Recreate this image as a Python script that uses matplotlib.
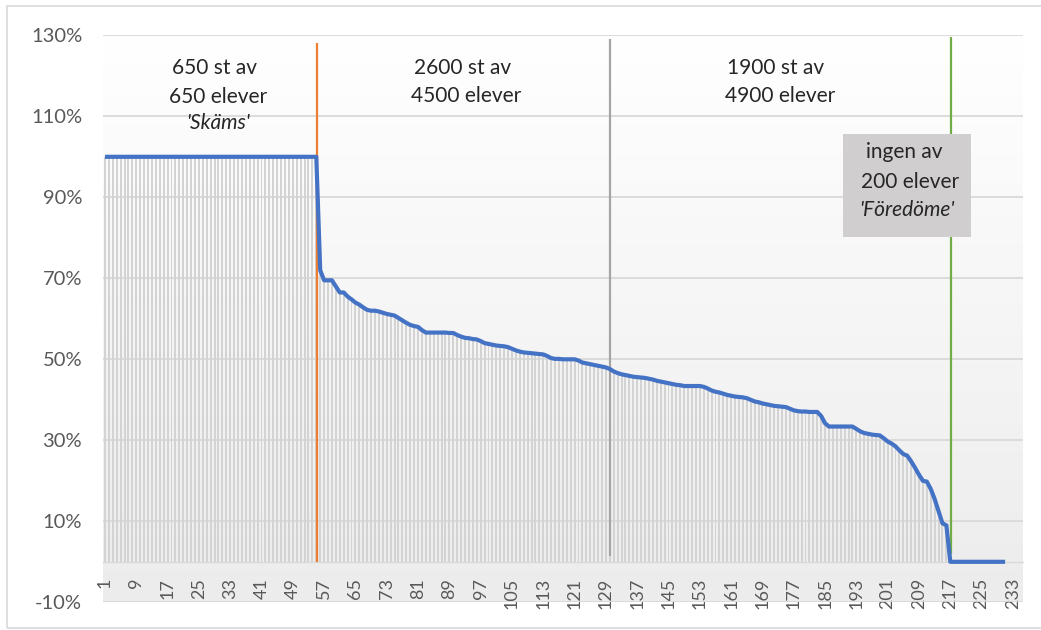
import numpy as np
import matplotlib
matplotlib.use("Agg")
import matplotlib.pyplot as plt
from matplotlib.patches import Rectangle
from matplotlib.colors import LinearSegmentedColormap

# ---------------- data ----------------
values = [
    1.0, 1.0, 1.0, 1.0, 1.0, 1.0, 1.0, 1.0, 1.0, 1.0,
    1.0, 1.0, 1.0, 1.0, 1.0, 1.0, 1.0, 1.0, 1.0, 1.0,
    1.0, 1.0, 1.0, 1.0, 1.0, 1.0, 1.0, 1.0, 1.0, 1.0,
    1.0, 1.0, 1.0, 1.0, 1.0, 1.0, 1.0, 1.0, 1.0, 1.0,
    1.0, 1.0, 1.0, 1.0, 1.0, 1.0, 1.0, 1.0, 1.0, 1.0,
    1.0, 1.0, 1.0, 1.0, 1.0,
    0.72, 0.695, 0.695, 0.695, 0.68, 0.665, 0.665, 0.655, 0.648, 0.64,
    0.635, 0.628, 0.622, 0.62, 0.62, 0.618, 0.615, 0.612, 0.61, 0.608,
    0.602, 0.596, 0.59, 0.585, 0.582, 0.58, 0.572, 0.566, 0.566, 0.566,
    0.566, 0.566, 0.566, 0.565, 0.565, 0.56, 0.556, 0.553, 0.552, 0.55,
    0.549, 0.545, 0.54, 0.538, 0.536, 0.534, 0.533, 0.532, 0.53, 0.526,
    0.522, 0.519, 0.517, 0.516, 0.515, 0.514, 0.513, 0.512, 0.508, 0.503,
    0.501, 0.501, 0.5, 0.5, 0.5, 0.5, 0.497, 0.492, 0.49, 0.488,
    0.486, 0.484, 0.482, 0.48, 0.476, 0.47, 0.466, 0.463, 0.461, 0.459,
    0.457, 0.456, 0.455, 0.454, 0.452, 0.45, 0.447, 0.445, 0.443, 0.441,
    0.439, 0.437, 0.436, 0.434, 0.434, 0.434, 0.434, 0.434, 0.432, 0.428,
    0.423, 0.42, 0.418, 0.415, 0.412, 0.41, 0.408, 0.407, 0.406, 0.404,
    0.4, 0.396, 0.394, 0.391, 0.389, 0.387, 0.385, 0.384, 0.383, 0.382,
    0.378, 0.374, 0.372, 0.371, 0.371, 0.37, 0.37, 0.37, 0.36, 0.342,
    0.334, 0.334, 0.334, 0.334, 0.334, 0.334, 0.334, 0.328, 0.322, 0.318,
    0.316, 0.314, 0.313, 0.312, 0.305, 0.297, 0.292, 0.285, 0.275, 0.266,
    0.262, 0.248, 0.232, 0.215, 0.2, 0.198, 0.18, 0.155, 0.125, 0.095,
    0.09,
    0.0, 0.0, 0.0, 0.0, 0.0, 0.0, 0.0, 0.0, 0.0, 0.0,
    0.0, 0.0, 0.0, 0.0, 0.0,
]
categories = list(range(1, len(values) + 1))
n_categories = 235
x_tick_values = list(range(1, 234, 8))
x_tick_labels = [str(v) for v in x_tick_values]
y_tick_values = [-0.1, 0.1, 0.3, 0.5, 0.7, 0.9, 1.1, 1.3]
y_tick_labels = ["-10%", "10%", "30%", "50%", "70%", "90%", "110%", "130%"]

divider_x = [55.3, 130.0, 217.3]
divider_top = [1.28, 1.29, 1.295]
divider_bottom = [0.0, 0.015, 0.02]
divider_colors = ["#ED7D31", "#A5A5A5", "#70AD47"]

# ---------------- figure ----------------
W, H = 1041, 630
fig = plt.figure(figsize=(W / 100, H / 100), dpi=100)
fig.patch.set_facecolor("white")

def fx(px):
    return px / W

def fy(py):
    return 1 - py / H

ax_left, ax_right, ax_top, ax_bottom = 103, 1022.7, 35.3, 602.3
ax = fig.add_axes([fx(ax_left), fy(ax_bottom), fx(ax_right - ax_left), (ax_bottom - ax_top) / H])

for s in ["top", "right", "left"]:
    ax.spines[s].set_visible(False)
ax.spines["bottom"].set_position(("data", 0))
ax.spines["bottom"].set_color("#d9d9d9")
ax.spines["bottom"].set_linewidth(1.0)
ax.spines["bottom"].set_zorder(1)

# gradient plot-area background
cmap = LinearSegmentedColormap.from_list("bg", ["#ffffff", "#ececec"])
ax.imshow(np.linspace(0, 1, 256).reshape(-1, 1), cmap=cmap, aspect="auto",
          extent=[0.5, n_categories + 0.5, -0.1, 1.3], origin="upper", zorder=0)

# bars + line
ax.bar(categories, values, width=0.5, color="#d3d3d3", zorder=1.5, linewidth=0)
ax.plot(categories, values, color="#4472C4", lw=3.0, zorder=3,
        solid_joinstyle="round", solid_capstyle="butt")

# divider lines
for xv, top, bot, col in zip(divider_x, divider_top, divider_bottom, divider_colors):
    ax.vlines(xv, bot, top, color=col, lw=1.6, zorder=2.5)

ax.set_xlim(0.5, n_categories + 0.5)
ax.set_ylim(-0.1, 1.3)

ax.set_yticks(y_tick_values)
ax.set_yticklabels(y_tick_labels, fontfamily="Lato", fontsize=14.5, color="#595959")
ax.yaxis.grid(True, color="#d9d9d9", lw=1.3, zorder=0.5)
ax.set_axisbelow(True)
ax.tick_params(axis="y", length=0, pad=15)

ax.set_xticks(x_tick_values)
ax.set_xticklabels(x_tick_labels, rotation=90, fontfamily="Lato", fontsize=13, color="#595959")
ax.tick_params(axis="x", length=0, pad=11.5)
for lab in ax.get_xticklabels():
    lab.set_rotation(90)
    lab.set_va("top")
    lab.set_ha("center")

# annotation box (in figure pixels)
box = Rectangle((fx(843), fy(237)), fx(971 - 843), (237 - 134) / H,
                transform=fig.transFigure, facecolor="#d0cece", edgecolor="none", zorder=5)
fig.patches.append(box)

texts = [
    ("650 st av", 214, 68, "normal"),
    ("650 elever", 218, 97, "normal"),
    ("'Skäms'", 218, 123, "italic"),
    ("2600 st av", 463, 68, "normal"),
    ("4500 elever", 466, 96, "normal"),
    ("1900 st av", 776, 68, "normal"),
    ("4900 elever", 780, 96, "normal"),
    ("ingen av", 904, 152, "normal"),
    ("200 elever", 910, 182, "normal"),
    ("'Föredöme'", 907, 210, "italic"),
]
for t, x, y, st in texts:
    fig.text(fx(x), fy(y), t, ha="center", va="center", fontfamily="Lato",
             fontsize=15, fontstyle=st, color="#262626", zorder=6)

# outer chart border
border = Rectangle((fx(7), fy(628)), fx(1045 - 7), (628 - 6) / H,
                   transform=fig.transFigure, facecolor="none", edgecolor="#d9d9d9", lw=1.2)
fig.patches.append(border)

fig.savefig("out.png", dpi=100)
